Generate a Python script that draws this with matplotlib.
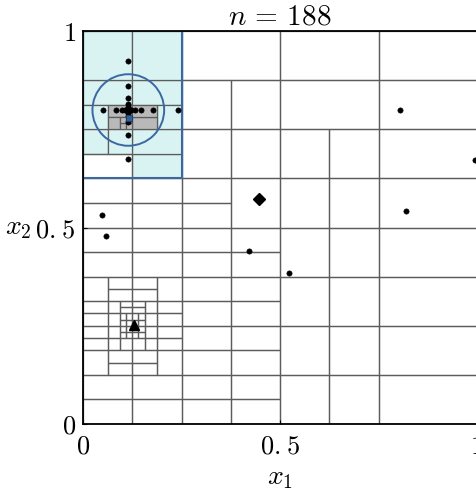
import matplotlib
matplotlib.use("Agg")
import matplotlib.pyplot as plt
from matplotlib.patches import Rectangle, Circle

plt.rcParams['mathtext.fontset'] = 'cm'
plt.rcParams['font.family'] = 'serif'

# ---- data ----
n_evals = 188
ticks = [0, 0.5, 1]
tick_labels = ['$0$', '$0.\\hspace{0.08}5$', '$1$']

# partition cells, given as column strips: (x0, x1, row breaks)
strips_plain = [
    (0.75, 1.0, [0, 0.125, 0.25, 0.375, 0.5, 0.625, 0.75, 0.875, 1]),
    (0.625, 0.75, [0, 0.125, 0.25, 0.375, 0.5, 0.625, 0.75]),
    (0.5, 0.625, [0, 0.125, 0.25, 0.375, 0.5, 0.625, 0.75]),
    (0.5, 0.75, [0.75, 0.875, 1]),
    (0.25, 0.5, [0.875, 1]),
    (0.375, 0.5, [0, 0.0625, 0.125, 0.1875, 0.25, 0.3125, 0.375, 0.4375, 0.5, 0.625, 0.75, 0.875]),
    (0.25, 0.375, [0, 0.0625, 0.125, 0.1875, 0.25, 0.3125, 0.375, 0.4375, 0.5, 0.5625, 0.625, 0.75, 0.875]),
    (0, 0.125, [0, 0.0625, 0.125]),
    (0.125, 0.25, [0, 0.0625, 0.125]),
    (0, 0.125, [0.375, 0.4375, 0.5, 0.5625, 0.625]),
    (0.125, 0.25, [0.375, 0.4375, 0.5, 0.5625, 0.625]),
    # around the triangle
    (0, 0.0625, [0.125, 0.1875, 0.21875, 0.25, 0.28125, 0.3125, 0.375]),
    (0.1875, 0.25, [0.125, 0.1875, 0.21875, 0.25, 0.28125, 0.3125, 0.375]),
    (0.0625, 0.125, [0.125, 0.15625, 0.1875]),
    (0.125, 0.1875, [0.125, 0.15625, 0.1875]),
    (0.0625, 0.125, [0.3125, 0.34375, 0.375]),
    (0.125, 0.1875, [0.3125, 0.34375, 0.375]),
    (0.0625, 0.09375, [0.1875, 0.21875, 0.25, 0.28125, 0.3125]),
    (0.15625, 0.1875, [0.1875, 0.21875, 0.25, 0.28125, 0.3125]),
    (0.09375, 0.125, [0.1875, 0.21875]),
    (0.125, 0.15625, [0.1875, 0.21875]),
    (0.09375, 0.109375, [0.21875, 0.234375, 0.25, 0.265625, 0.28125]),
    (0.109375, 0.125, [0.21875, 0.234375, 0.25, 0.265625, 0.28125]),
    (0.125, 0.140625, [0.21875, 0.234375, 0.25, 0.265625, 0.28125]),
    (0.140625, 0.15625, [0.21875, 0.234375, 0.25, 0.265625, 0.28125]),
    (0.09375, 0.125, [0.28125, 0.296875, 0.3125]),
    (0.125, 0.15625, [0.28125, 0.296875, 0.3125]),
    # blue box, unfilled cell
    (0, 0.125, [0.625, 0.6875]),
]
strips_cyan = [
    (0, 0.125, [0.8125, 0.875, 1]),
    (0.125, 0.25, [0.8125, 0.875, 1]),
    (0.125, 0.25, [0.625, 0.6875, 0.75]),
    (0, 0.0625, [0.6875, 0.75, 0.8125]),
    (0.0625, 0.125, [0.6875, 0.75]),
    (0.1875, 0.25, [0.75, 0.8125]),
]
strips_gray = [
    (0.0625, 0.125, [0.78125, 0.8125]),
    (0.125, 0.1875, [0.75, 0.78125, 0.8125]),
    (0.0625, 0.09375, [0.75, 0.78125]),
    (0.09375, 0.109375, [0.75, 0.765625, 0.78125]),
    (0.109375, 0.125, [0.75, 0.765625, 0.78125]),
]

# evaluated points
pts_x = [0.052, 0.084, 0.099, 0.107, 0.111, 0.113, 0.115, 0.117, 0.119, 0.123, 0.131, 0.146, 0.177, 0.240,
         0.115, 0.115, 0.115, 0.115, 0.115, 0.115, 0.115, 0.115, 0.115, 0.115, 0.115, 0.115,
         0.805, 0.996, 0.820, 0.523, 0.422, 0.048, 0.058]
pts_y = [0.799, 0.799, 0.799, 0.799, 0.799, 0.799, 0.799, 0.799, 0.799, 0.799, 0.799, 0.799, 0.799, 0.799,
         0.924, 0.861, 0.830, 0.815, 0.807, 0.803, 0.795, 0.791, 0.783, 0.768, 0.736, 0.674,
         0.799, 0.672, 0.542, 0.385, 0.441, 0.532, 0.479]

diamond_pt = (0.447, 0.572)
triangle_pt = (0.129, 0.253)
best_pt = (0.116, 0.779)
ball_center = (0.115, 0.799)
ball_radius = 0.091
box = (0, 0.625, 0.25, 0.375)

# ---- plot ----
edge = '#5c5c5c'
blue = '#3b68a3'
fs = 19

fig = plt.figure(figsize=(4.76, 4.92), dpi=100)
ax = fig.add_axes([83/476, 1-424/492, 394/476, 393/492])

def draw_strips(strips, face):
    for x0, x1, rows in strips:
        for y0, y1 in zip(rows[:-1], rows[1:]):
            ax.add_patch(Rectangle((x0, y0), x1-x0, y1-y0, facecolor=face,
                                   edgecolor=edge, lw=0.9, zorder=1))

draw_strips(strips_cyan, '#d9f2f2')
draw_strips(strips_gray, '#b9b9b9')
draw_strips(strips_plain, 'none')

ax.add_patch(Rectangle(box[:2], box[2], box[3], fill=False, edgecolor=blue, lw=1.5, zorder=2))
ax.add_patch(Circle(ball_center, ball_radius, fill=False, edgecolor=blue, lw=1.4, zorder=3))

ax.plot(pts_x, pts_y, 'o', color='black', ms=3.8, mew=0.4, zorder=4)
ax.plot(*best_pt, 's', color='#2f5f9c', mec='#1c3c66', ms=5, mew=0.6, zorder=5)
ax.plot(*diamond_pt, 'D', color='black', ms=6.5, zorder=5)
ax.plot(*triangle_pt, '^', color='black', ms=7, zorder=5)

ax.set_xlim(0, 1)
ax.set_ylim(0, 1)
ax.set_xticks(ticks)
ax.set_xticklabels(tick_labels)
ax.set_yticks(ticks)
ax.set_yticklabels(tick_labels)
ax.tick_params(direction='in', length=3, width=0.8, labelsize=fs)
ax.tick_params(axis='x', pad=7)
ax.tick_params(axis='y', pad=5)
for s in ax.spines.values():
    s.set_linewidth(1.3)
    s.set_zorder(6)

ax.set_title('$n\\,=\\,%d$' % n_evals, fontsize=fs + 2, pad=1)
ax.set_xlabel('$x_1$', fontsize=fs + 1, labelpad=4)
ax.set_ylabel('$x_2$', fontsize=fs + 1, rotation=0, ha='center', va='center')
ax.yaxis.set_label_coords(-0.165, 0.5)

fig.savefig('out.png', dpi=100)
